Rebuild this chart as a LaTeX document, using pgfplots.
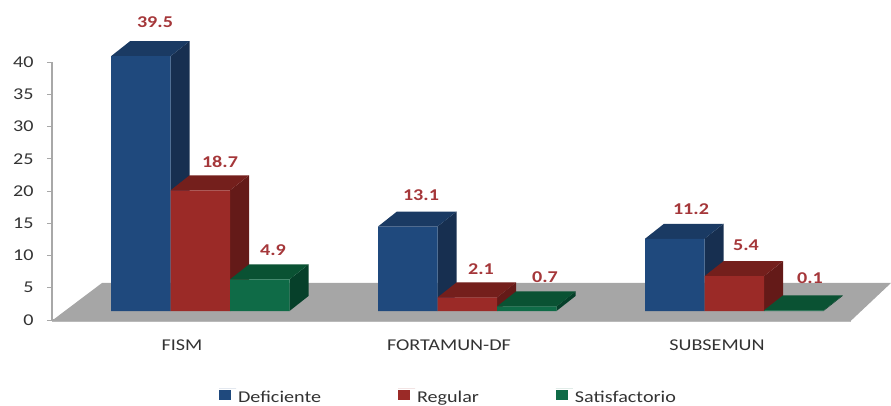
\documentclass[border=0pt]{standalone}
\usepackage{fontspec}
\setmainfont[FakeStretch=1.22]{Carlito}
\usepackage{pgfplots}
\pgfplotsset{compat=1.18}
\definecolor{cB}{HTML}{1F497D}\definecolor{cBs}{HTML}{172F50}\definecolor{cBt}{HTML}{1A3A63}
\definecolor{cR}{HTML}{9B2A27}\definecolor{cRs}{HTML}{641A18}\definecolor{cRt}{HTML}{741F1C}
\definecolor{cG}{HTML}{0F6B47}\definecolor{cGs}{HTML}{06402A}\definecolor{cGt}{HTML}{0A5233}
\definecolor{cAx}{HTML}{A8A8A8}\definecolor{cFl}{HTML}{A6A6A6}\definecolor{cTx}{HTML}{333333}
\definecolor{cLab}{HTML}{A5373A}
% left edge (px), value, side colour, top colour
\newcommand{\depth}[4]{%
  \pgfmathsetmacro\xa{#1}\pgfmathsetmacro\xb{#1+59.5}%
  \pgfmathsetmacro\xc{#1+78.5}\pgfmathsetmacro\xd{#1+19}%
  \pgfmathsetmacro\yb{1.395}\pgfmathsetmacro\ybb{1.395+2.326}%
  \pgfmathsetmacro\yt{#2+1.395}\pgfmathsetmacro\ytt{#2+1.395+2.326}%
  \addplot[forget plot,fill=#3,draw=none] coordinates {(\xb,\yb)(\xc,\ybb)(\xc,\ytt)(\xb,\yt)} -- cycle;
  \addplot[forget plot,fill=#4,draw=none] coordinates {(\xa,\yt)(\xd,\ytt)(\xc,\ytt)(\xb,\yt)} -- cycle;
}
\newcommand{\lab}[3]{\node[text=cLab,font=\fontsize{16.5}{16.5}\selectfont\bfseries] at (axis cs:#1,#2) {#3};}
\begin{document}
\begin{tikzpicture}[x=1pt,y=1pt]
\path[use as bounding box] (-52,-85) rectangle (839,320);
\begin{axis}[
  scale only axis,width=799pt,height=258pt,
  xmin=52,xmax=851,ymin=0,ymax=40,clip=false,
  axis lines=left,axis line style={-,cAx,line width=1.8pt},
  xtick={182,449,717},xticklabels={FISM,FORTAMUN-DF,SUBSEMUN},
  major x tick style={draw=none},
  extra x ticks={52,318.3,585,851},extra x tick labels={},
  extra x tick style={major tick length=6pt,tick style={cAx,line width=1pt},tickwidth=6pt},
  ytick={0,5,...,40},
  y tick style={cAx,line width=1pt},
  tick align=outside,tickwidth=5pt,
  /pgf/number format/assume math mode=true,
  tick label style={font=\fontsize{16.5}{17}\selectfont,text=cTx},
  xticklabel style={yshift=-11pt},
  yticklabel style={xshift=-10pt},
  legend style={at={(axis cs:448.5,-11.95)},anchor=center,draw=none,fill=none,legend columns=3,
    font=\fontsize{16.5}{17}\selectfont,text=cTx,
    /tikz/every even column/.append style={column sep=75pt}},
  legend image code/.code={\path (0pt,0pt) -- (17pt,0pt);\fill[#1] (0pt,-12pt) rectangle (12pt,-1.5pt);},
]
% floor
\addplot[forget plot,fill=cFl,draw=none] coordinates {(52,-0.1)(102,5.74)(891,5.74)(851,-0.1)} -- cycle;
\addplot[forget plot,draw=cAx!80!white,line width=1.5pt] coordinates {(52,-0.2)(851,-0.2)};
% Deficiente
\depth{111}{39.5}{cBs}{cBt}
\depth{378}{13.1}{cBs}{cBt}
\depth{645}{11.2}{cBs}{cBt}
\addplot[ybar,bar width=59.5,bar shift=0pt,fill=cB,draw=none,yshift=9pt] coordinates {(140.75,39.5)(407.75,13.1)(674.75,11.2)};
\addlegendentry{Deficiente}
% Regular
\depth{170.5}{18.7}{cRs}{cRt}
\depth{437.5}{2.1}{cRs}{cRt}
\depth{704.5}{5.4}{cRs}{cRt}
\addplot[ybar,bar width=59.5,bar shift=0pt,fill=cR,draw=none,yshift=9pt] coordinates {(200.25,18.7)(467.25,2.1)(734.25,5.4)};
\addlegendentry{Regular}
% Satisfactorio
\depth{230}{4.9}{cGs}{cGt}
\depth{497}{0.7}{cGs}{cGt}
\depth{764}{0.1}{cGs}{cGt}
\addplot[ybar,bar width=59.5,bar shift=0pt,fill=cG,draw=none,yshift=9pt] coordinates {(259.75,4.9)(526.75,0.7)(793.75,0.1)};
\addlegendentry{Satisfactorio}
\lab{155}{46.2}{39.5}\lab{220}{24.5}{18.7}\lab{273}{10.85}{4.9}
\lab{421}{19.38}{13.1}\lab{481}{7.91}{2.1}\lab{545}{6.67}{0.7}
\lab{691}{17.21}{11.2}\lab{746}{11.63}{5.4}\lab{810}{6.51}{0.1}
\end{axis}
\end{tikzpicture}
\end{document}
